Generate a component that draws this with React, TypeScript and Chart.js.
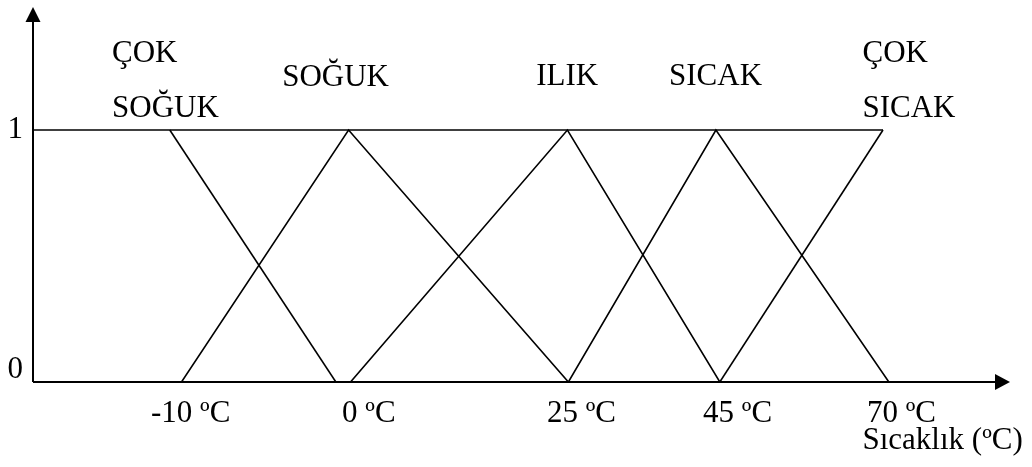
import { useEffect, useRef } from "react";
import { Chart, registerables } from "chart.js";

Chart.register(...registerables);

// Schematic horizontal axis: 0 = vertical axis, 100 = arrow tip
// Membership functions (x: schematic position, y: membership degree)
const cokSogukX = [14.0, 31.0];
const cokSogukY = [1, 0];
const sogukX = [15.2, 32.3, 54.8];
const sogukY = [0, 1, 0];
const ilikX = [32.5, 54.7, 70.3];
const ilikY = [0, 1, 0];
const sicakX = [54.8, 69.9, 87.6];
const sicakY = [0, 1, 0];
const cokSicakX = [70.3, 87.0];
const cokSicakY = [0, 1];
const topLineX = [0, 87.0];
const topLineY = [1, 1];

// Tick labels
const xTickLabels = ["-10 ºC", "0 ºC", "25 ºC", "45 ºC", "70 ºC"];
const xTickPos = [12.08, 31.63, 52.61, 68.58, 85.36];
const yTickLabels = ["0", "1"];
const yTickValues = [0, 1];

// Term labels (lines of text)
const termLines = [["ÇOK", "SOĞUK"], ["SOĞUK"], ["ILIK"], ["SICAK"], ["ÇOK", "SICAK"]];
const xAxisTitle = "Sıcaklık (ºC)";

// Layout of annotations (schematic x, membership y of first baseline)
const termLayout = [
  { x: 8.09, y: 1.27 },
  { x: 25.5, y: 1.175 },
  { x: 51.5, y: 1.179 },
  { x: 65.1, y: 1.179 },
  { x: 84.9, y: 1.27 },
];

const FONT = "31px 'Liberation Serif', 'Times New Roman', serif";

function pts(xs: number[], ys: number[]) {
  return xs.map((x, i) => ({ x, y: ys[i] }));
}

const overlay = {
  id: "overlay",
  afterDraw(chart: any) {
    const ctx = chart.ctx as CanvasRenderingContext2D;
    const xs = chart.scales.x;
    const ys = chart.scales.y;
    const x0 = xs.getPixelForValue(0);
    const xEnd = xs.getPixelForValue(100);
    const y0 = ys.getPixelForValue(0);
    const yTop = chart.chartArea.top;
    ctx.save();
    ctx.strokeStyle = "#000";
    ctx.fillStyle = "#000";
    ctx.lineWidth = 2;
    // axes
    ctx.beginPath();
    ctx.moveTo(x0, y0);
    ctx.lineTo(x0, yTop + 12);
    ctx.moveTo(x0, y0);
    ctx.lineTo(xEnd - 12, y0);
    ctx.stroke();
    // arrows
    ctx.beginPath();
    ctx.moveTo(x0, yTop);
    ctx.lineTo(x0 - 7.5, yTop + 15);
    ctx.lineTo(x0 + 7.5, yTop + 15);
    ctx.closePath();
    ctx.fill();
    ctx.beginPath();
    ctx.moveTo(xEnd, y0);
    ctx.lineTo(xEnd - 15, y0 - 8);
    ctx.lineTo(xEnd - 15, y0 + 8);
    ctx.closePath();
    ctx.fill();

    ctx.font = FONT;
    ctx.textAlign = "left";
    ctx.textBaseline = "alphabetic";
    // x tick labels
    xTickLabels.forEach((t, i) => {
      ctx.fillText(t, xs.getPixelForValue(xTickPos[i]), y0 + 40);
    });
    // x axis title
    ctx.fillText(xAxisTitle, xs.getPixelForValue(84.9), y0 + 67);
    // y tick labels
    ctx.textAlign = "right";
    yTickLabels.forEach((t, i) => {
      const py = ys.getPixelForValue(yTickValues[i]);
      ctx.fillText(t, x0 - 10, yTickValues[i] === 0 ? py - 4 : py + 8);
    });
    // term labels
    ctx.textAlign = "left";
    termLines.forEach((lines, i) => {
      const L = termLayout[i];
      const px = xs.getPixelForValue(L.x);
      const py = ys.getPixelForValue(L.y);
      lines.forEach((ln, j) => ctx.fillText(ln, px, py + j * 55));
    });
    ctx.restore();
  },
};

export default function App() {
  const ref = useRef<HTMLCanvasElement>(null);
  useEffect(() => {
    if (!ref.current) return;
    const line = { borderColor: "#000", borderWidth: 1.6, pointRadius: 0, showLine: true, tension: 0, fill: false };
    const chart = new Chart(ref.current, {
      type: "scatter",
      data: {
        datasets: [
          { label: "top", data: pts(topLineX, topLineY), ...line },
          { label: termLines[0].join(" "), data: pts(cokSogukX, cokSogukY), ...line },
          { label: termLines[1].join(" "), data: pts(sogukX, sogukY), ...line },
          { label: termLines[2].join(" "), data: pts(ilikX, ilikY), ...line },
          { label: termLines[3].join(" "), data: pts(sicakX, sicakY), ...line },
          { label: termLines[4].join(" "), data: pts(cokSicakX, cokSicakY), ...line },
        ] as any,
      },
      options: {
        animation: false,
        responsive: false,
        layout: { padding: { left: 33, right: 22, top: 7, bottom: 85 } },
        scales: {
          x: { type: "linear", min: 0, max: 100, display: false },
          y: { type: "linear", min: 0, max: 1.488, display: false },
        },
        plugins: { legend: { display: false }, tooltip: { enabled: false } },
      },
      plugins: [overlay],
    });
    return () => chart.destroy();
  }, []);
  return (
    <div style={{ position: "absolute", left: 0, top: 0, width: 1032, height: 467, background: "#fff" }}>
      <canvas ref={ref} width={1032} height={467} style={{ display: "block" }} />
    </div>
  );
}
